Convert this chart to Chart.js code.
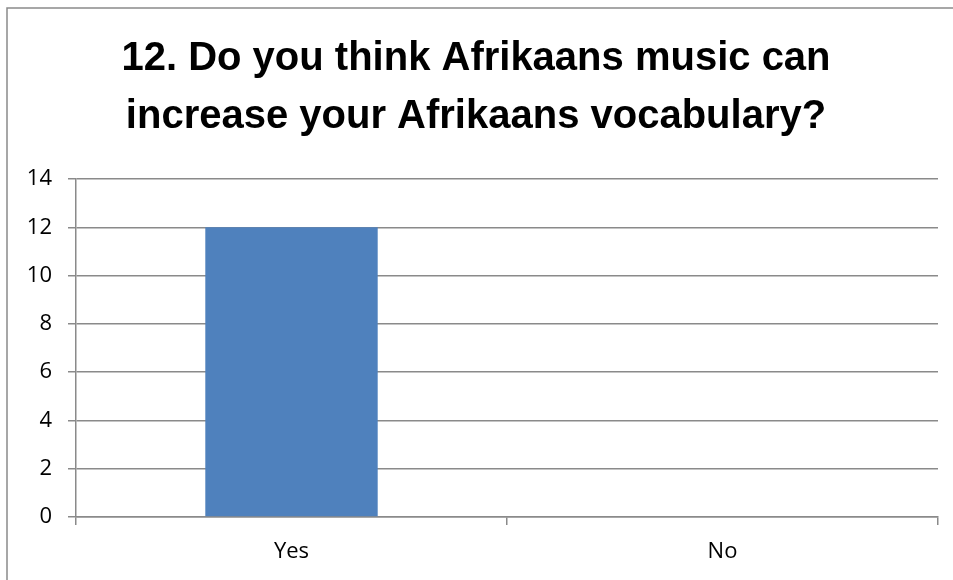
<!DOCTYPE html>
<html>
<head>
<meta charset="utf-8">
<script src="https://cdn.jsdelivr.net/npm/chart.js@4/dist/chart.umd.min.js"></script>
<style>
  html, body { margin: 0; padding: 0; background: #ffffff; }
  #wrap { position: relative; width: 953px; height: 580px; }
</style>
</head>
<body>
<div id="wrap"><canvas id="c" width="953" height="580"></canvas></div>
<script>
const titleLines = ["12. Do you think Afrikaans music can", "increase your Afrikaans vocabulary?"];
const categories = ["Yes", "No"];
const seriesValues = [12, 0];
const yTicks = [0, 2, 4, 6, 8, 10, 12, 14];

const gridColor = "#8a8a8a";

const frame = {
  id: "frame",
  beforeDraw(chart) {
    const ctx = chart.ctx;
    ctx.save();
    ctx.fillStyle = "#ffffff";
    ctx.fillRect(0, 0, chart.width, chart.height);
    ctx.strokeStyle = "#8a8a8a";
    ctx.lineWidth = 1.5;
    ctx.beginPath();
    ctx.moveTo(7, chart.height);
    ctx.lineTo(7, 8);
    ctx.lineTo(chart.width, 8);
    ctx.stroke();
    ctx.restore();
  }
};

new Chart(document.getElementById("c"), {
  type: "bar",
  data: {
    labels: categories,
    datasets: [{
      data: seriesValues,
      backgroundColor: "#4f81bd",
      borderWidth: 0,
      barPercentage: 0.4,
      categoryPercentage: 1.0
    }]
  },
  options: {
    responsive: false,
    animation: false,
    devicePixelRatio: 1,
    layout: { padding: { left: 14, right: 15, top: 0, bottom: 0 } },
    plugins: {
      legend: { display: false },
      tooltip: { enabled: false },
      title: {
        display: true,
        text: titleLines,
        color: "#000000",
        font: { family: "'Liberation Sans', sans-serif", size: 40, weight: "bold", lineHeight: "58px" },
        padding: { top: 30, bottom: 33 }
      }
    },
    scales: {
      x: {
        grid: { drawOnChartArea: false, drawTicks: true, tickLength: 8, color: gridColor, lineWidth: 1.5 },
        border: { color: gridColor, width: 1.5 },
        ticks: { color: "#000000", padding: 14, font: { family: "'Open Sans', sans-serif", size: 22 } },
        afterFit(scale) { scale.height = 63; }
      },
      y: {
        min: 0,
        max: 14,
        afterBuildTicks(scale) { scale.ticks = yTicks.map(v => ({ value: v })); },
        grid: { color: gridColor, lineWidth: 1.5, tickLength: 8 },
        border: { color: gridColor, width: 1.5 },
        ticks: { color: "#000000", padding: 16, font: { family: "'Open Sans', sans-serif", size: 22 } },
        afterFit(scale) { scale.width = 62; }
      }
    }
  },
  plugins: [frame]
});
</script>
</body>
</html>
